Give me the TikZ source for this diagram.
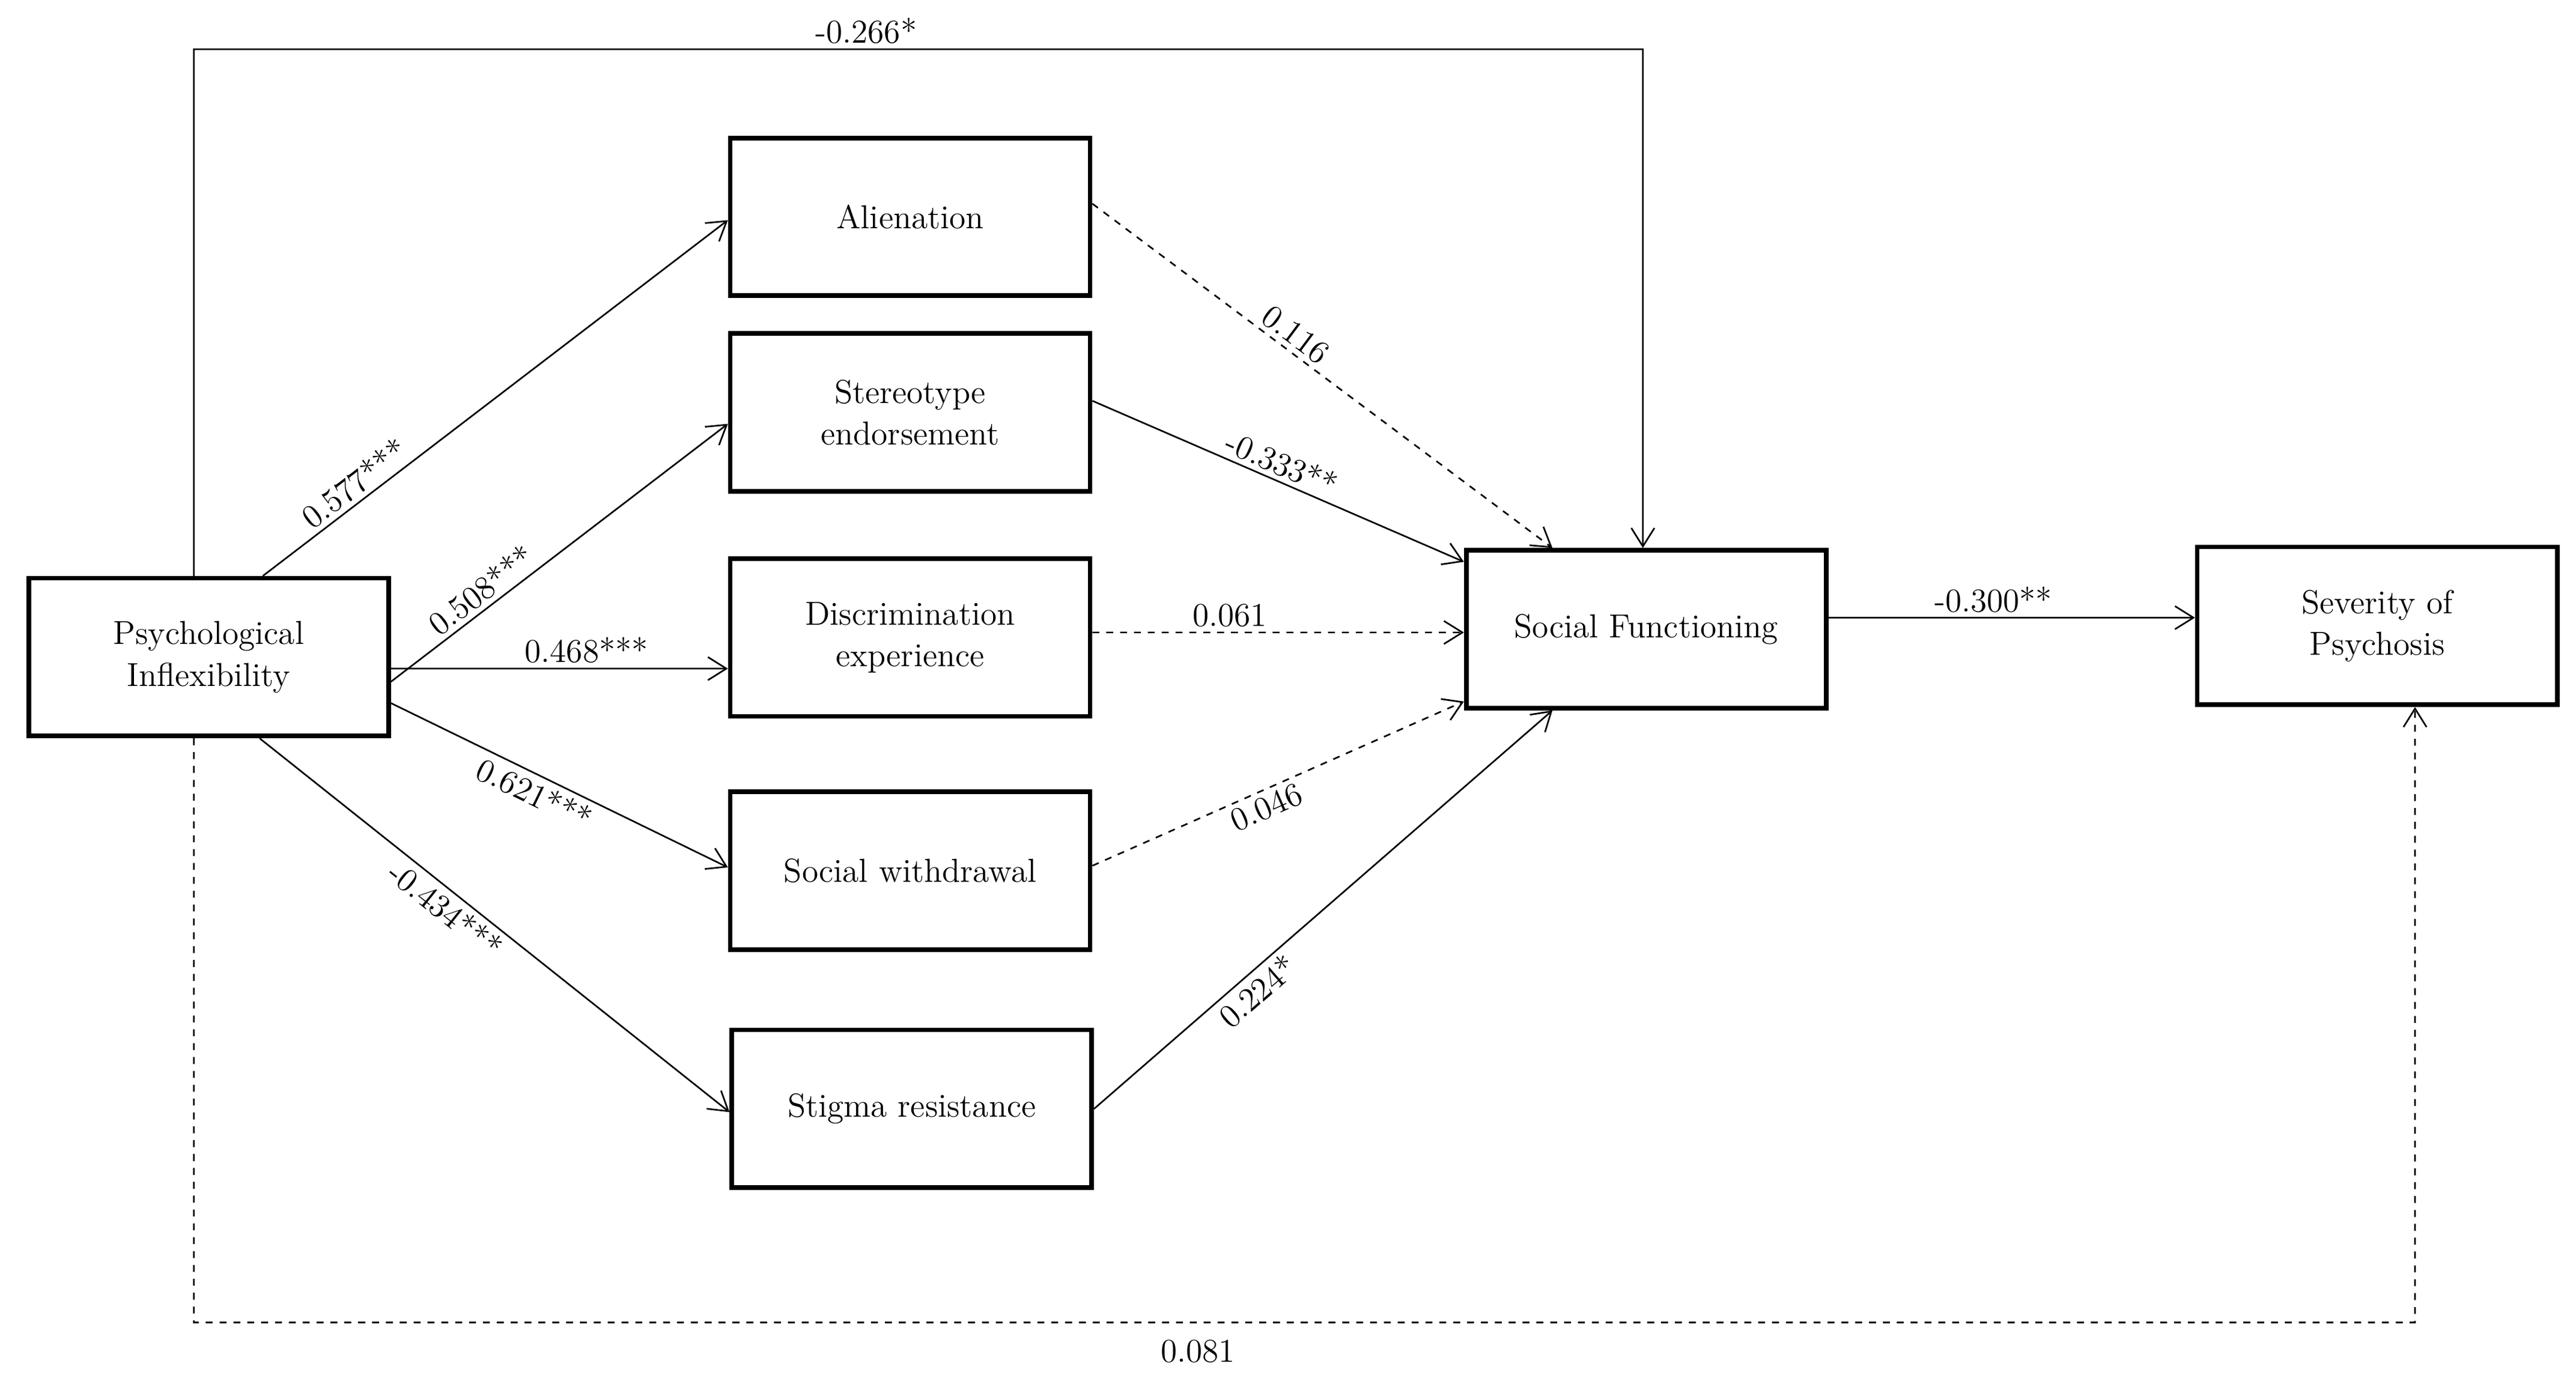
\documentclass[tikz,border=0pt]{standalone}
\usetikzlibrary{arrows.meta,calc}
\tikzset{
  box/.style={draw, line width=2pt, minimum width=5.475cm, minimum height=2.4cm, align=center, font=\Large},
  path/.style={-{Straight Barb[length=8pt,width=10pt]}, line width=0.7pt},
  ns/.style={path, dashed},
  coef/.style={font=\Large, sloped, inner sep=2pt}
}
\begin{document}
\begin{tikzpicture}[x=0.025cm, y=-0.025cm]
	\useasboundingbox (0,0) rectangle (1568,844);
	% Nodes
	\node[box] (pi) at (127,400) {Psychological\\Inflexibility};
	\node[box] (alien) at (554,132) {Alienation};
	\node[box] (stereo) at (554,251) {Stereotype\\endorsement};
	\node[box] (discr) at (554,388) {Discrimination\\experience};
	\node[box] (withd) at (554,530) {Social withdrawal};
	\node[box] (resist) at (555,675) {Stigma resistance};
	\node[box] (sf) at (1002,383) {Social Functioning};
	\node[box] (sev) at (1447,381) {Severity of\\Psychosis};
	
	% Edges
	\draw[path] ([xshift=0.825cm]pi.north) to node[coef, pos=0.22, above] {0.577***} ([yshift=-0.05cm]alien.west);
	\draw[path] ([yshift=-0.375cm]pi.east) to node[coef, pos=0.3, above] {0.508***} ([yshift=-0.175cm]stereo.west);
	\draw[path] ([yshift=-0.175cm]pi.east) to node[coef, pos=0.58, above] {0.468***} ([yshift=-0.475cm]discr.west);
	\draw[path] ([yshift=-0.7cm]pi.east) to node[coef, pos=0.45, below] {0.621***} ([yshift=0.05cm]withd.west);
	\draw[path] ([xshift=0.775cm]pi.south) to node[coef, pos=0.42, below] {-0.434***} ([yshift=-0.05cm]resist.west);
	\draw[ns] ([yshift=0.2cm]alien.east) to node[coef, pos=0.42, above] {0.116} ([xshift=-1.425cm]sf.north);
	\draw[path] ([yshift=0.175cm]stereo.east) to node[coef, pos=0.49, above] {-0.333**} ([yshift=1.025cm]sf.west);
	\draw[ns] ([yshift=0.075cm]discr.east) to node[coef, pos=0.37, above] {0.061} ([yshift=-0.05cm]sf.west);
	\draw[ns] ([yshift=0.075cm]withd.east) to node[coef, pos=0.45, below] {0.046} ([yshift=-1.1cm]sf.west);
	\draw[path] (resist.east) to node[coef, pos=0.33, below] {0.224*} ([xshift=-1.425cm]sf.south);
	\draw[path] ([yshift=0.175cm]sf.east) to node[coef, pos=0.45, above] {-0.300**} ([yshift=0.125cm]sev.west);
	\draw[path] ([xshift=-0.225cm]pi.north) |- (1000,30) node[coef, pos=0.732, above=0pt] {-0.266*} -- ([xshift=-0.05cm]sf.north);
	\draw[ns] ([xshift=-0.225cm]pi.south) |- (1470,805) node[font=\Large, pos=0.726, below=4pt] {0.081} -- ([xshift=0.575cm]sev.south);
\end{tikzpicture}
\end{document}
